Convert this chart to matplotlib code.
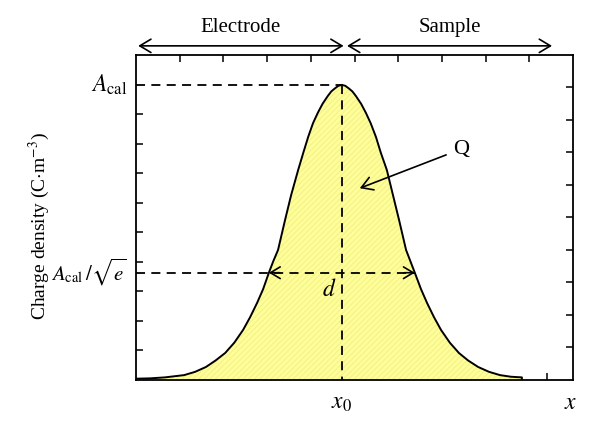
import matplotlib
matplotlib.use('Agg')
from matplotlib import pyplot as plt

plt.rcParams['font.family'] = ['Liberation Serif', 'DejaVu Serif']
plt.rcParams['mathtext.fontset'] = 'stix'
plt.rcParams['hatch.linewidth'] = 1.0

# charge density profile (position, density)
pos = [0.00, 0.32, 0.66, 1.10, 1.35, 1.60, 1.82, 2.04, 2.25, 2.45, 2.61, 2.77,
       2.91, 3.04, 3.14, 3.25, 3.41, 3.55, 3.71, 3.83, 3.94, 4.05, 4.16, 4.27,
       4.39, 4.47, 4.55, 4.63, 4.71, 4.79, 4.87, 4.95, 5.03, 5.15, 5.26, 5.37,
       5.49, 5.60, 5.74, 5.88, 6.02, 6.18, 6.28, 6.38, 6.52, 6.66, 6.82, 6.98,
       7.18, 7.39, 7.60, 7.83, 8.08, 8.33, 8.58, 8.83, 8.83]
density = [0.04, 0.05, 0.08, 0.15, 0.25, 0.40, 0.60, 0.83, 1.15, 1.54, 1.93, 2.37,
           2.80, 3.30, 3.65, 4.00, 4.92, 5.69, 6.46, 7.00, 7.48, 7.90, 8.22, 8.50,
           8.74, 8.88, 8.97, 9.05, 9.08, 9.05, 8.97, 8.88, 8.74, 8.50, 8.22, 7.90,
           7.48, 7.00, 6.46, 5.69, 4.92, 4.00, 3.65, 3.30, 2.80, 2.37, 1.93, 1.54,
           1.15, 0.83, 0.60, 0.40, 0.25, 0.15, 0.10, 0.08, 0.00]

x0 = 4.71
a_cal = 9.08
a_e = 3.30
d_left, d_right = 3.04, 6.38
electrode = (0.05, 4.75)
sample = (4.83, 9.52)

fig = plt.figure(figsize=(6, 4.26), dpi=100)
ax = fig.add_axes([0.2267, 0.108, 0.7283, 0.763])
ax.set_xlim(0, 10)
ax.set_ylim(0, 10)

ax.fill_between(pos, density, 0, facecolor='#FFFF99', edgecolor='#F7F38C',
                hatch='//////', linewidth=0)
ax.plot(pos, density, color='black', lw=1.4)

dash = dict(color='black', lw=1.3, dashes=(5, 3.5))
ax.plot([0, x0], [a_cal, a_cal], **dash)
ax.plot([x0, x0], [a_cal, 0], **dash)
ax.plot([0, d_right], [a_e, a_e], **dash)
for tip, tail in ((d_left, d_left + 0.25), (d_right, d_right - 0.25)):
    ax.annotate('', xy=(tip, a_e), xytext=(tail, a_e),
                arrowprops=dict(arrowstyle='->,head_width=0.3,head_length=0.5',
                                lw=1.2, color='black',
                                mutation_scale=14, shrinkA=0, shrinkB=0))

ax.text(x0 - 0.12, a_e - 0.2, '$d$', fontsize=17, ha='right', va='top')

ax.annotate('Q', xy=(5.12, 5.9), xytext=(7.25, 7.1), fontsize=16,
            ha='left', va='center',
            arrowprops=dict(arrowstyle='->,head_width=0.3,head_length=0.5',
                            lw=1.2, color='black',
                            mutation_scale=16, shrinkA=3, shrinkB=0))

# region arrows above the plot
for (a, b), label in ((electrode, 'Electrode'), (sample, 'Sample')):
    ax.annotate('', xy=(a, 1.028), xytext=(b, 1.028),
                xycoords=('data', 'axes fraction'),
                textcoords=('data', 'axes fraction'),
                arrowprops=dict(arrowstyle='<->,head_width=0.3,head_length=0.5',
                                lw=1.2, color='black',
                                mutation_scale=16, shrinkA=0, shrinkB=0),
                annotation_clip=False)
    ax.text((a + b) / 2, 1.085, label, transform=ax.get_xaxis_transform(),
            ha='center', va='center', fontsize=15)

ax.text(-0.2, a_cal, r'$A_{\rm cal}$', fontsize=17, ha='right', va='center')
ax.text(-0.2, a_e, r'$A_{\rm cal}\,/\sqrt{e}$', fontsize=15, ha='right', va='center')
ax.text(x0, -0.4, '$x_0$', fontsize=17, ha='center', va='top')
ax.text(9.95, -0.4, '$x$', fontsize=17, ha='center', va='top')
ax.text(-2.2, 4.74, r'Charge density (C$\cdot$m$^{-3}$)', fontsize=14,
        rotation=90, ha='center', va='center')

for s in ax.spines.values():
    s.set_linewidth(1.3)

ax.set_xticks([9.4])
ax.set_yticks([a_cal * k / 10 for k in range(1, 10)])
ax.tick_params(axis='both', direction='in', length=5, width=1.1,
               labelbottom=False, labelleft=False)

top = ax.secondary_xaxis('top')
top.set_xticks(list(range(1, 10)))
top.tick_params(direction='in', length=5, width=1.1, labeltop=False)
top.spines['top'].set_visible(False)

right = ax.secondary_yaxis('right')
right.set_yticks(list(range(1, 10)))
right.tick_params(direction='in', length=5, width=1.1, labelright=False)
right.spines['right'].set_visible(False)

fig.savefig('out.png', dpi=100)
